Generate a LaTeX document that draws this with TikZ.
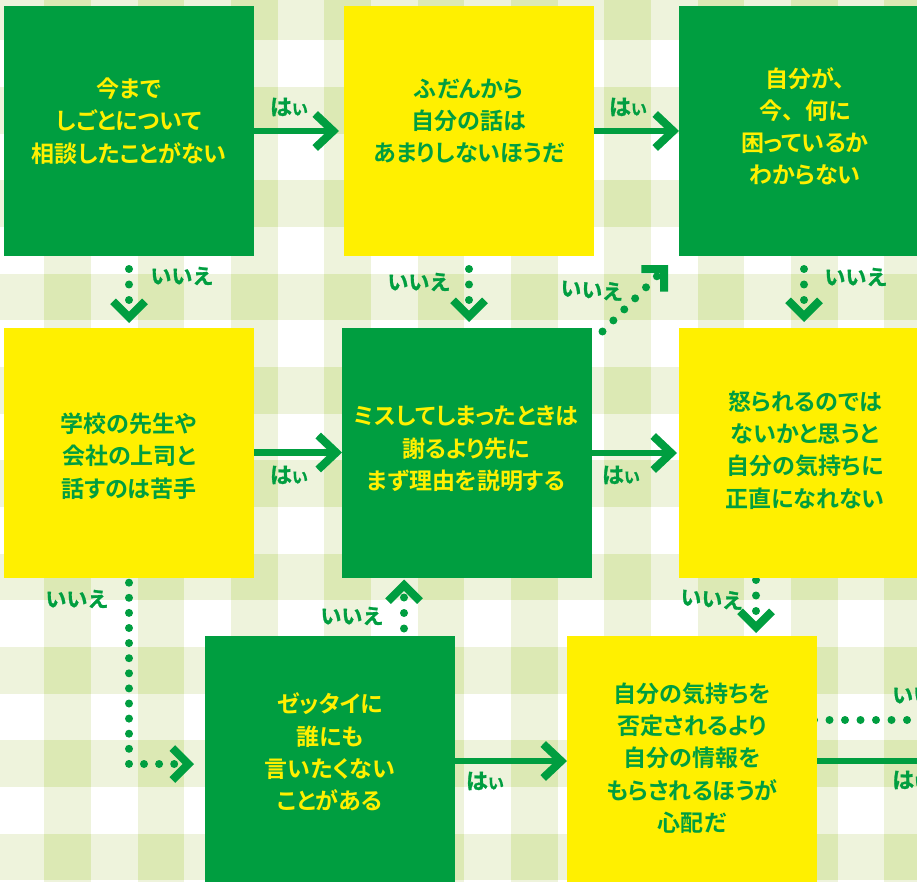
\documentclass[tikz,border=0pt]{standalone}
\usepackage{fontspec}
\usetikzlibrary{arrows.meta,calc}
\newfontfamily\jpfont[RawFeature=+palt]{Noto Sans CJK JP Bold}
\newfontfamily\lbfont[FakeBold=1.2]{Noto Sans CJK JP Bold}
\definecolor{fgreen}{HTML}{009E40}
\definecolor{fyellow}{HTML}{FFF000}
\definecolor{gpale}{HTML}{EEF3DC}
\definecolor{gmed}{HTML}{DCE9B4}
\pgfdeclarelayer{bg}
\pgfdeclarelayer{conn}
\pgfsetlayers{bg,conn,main}
\begin{document}
\begin{tikzpicture}[x=1pt,y=-1pt,
  box/.style={minimum width=250pt, minimum height=250pt, inner sep=0pt, outer sep=0pt, draw=none},
  gbox/.style={box, fill=fgreen},
  ybox/.style={box, fill=fyellow},
  qtext/.style={align=center, font=\jpfont\fontsize{23}{32.3}\selectfont, inner sep=0pt},
  gtext/.style={qtext, text=fyellow},
  ytext/.style={qtext, text=fgreen},
  yesline/.style={draw=fgreen, line width=6.5pt},
  yes/.style={yesline, -{Straight Barb[sharp, length=18pt, width=34pt, line width=8pt]}},
  dots/.style={draw=fgreen, line width=8pt, line cap=round, dash pattern=on 0pt off 15.5pt},
  no/.style={dots, -{Straight Barb[sharp, length=16pt, width=32pt, line width=8pt]}},
  lab/.style={text=fgreen, font=\lbfont\fontsize{21}{21}\selectfont, inner sep=0pt},
  hai/.style={text=fgreen, inner sep=0pt},
]
\useasboundingbox (0,0) rectangle (917,882);
\clip (0,0) rectangle (917,882);
\newcommand{\haitext}{{\lbfont\fontsize{22}{22}\selectfont は\fontsize{16}{16}\selectfont い}}
\begin{pgfonlayer}{bg}
\fill[white] (0,0) rectangle (917,882);
\foreach \k in {-1,...,9} \fill[gpale] ({44.33+93.33*\k},0) rectangle ++(46.67,882);
\foreach \k in {0,...,9} \fill[gpale] (0,{-6.33+93.33*\k}) rectangle ++(917,46.67);
\foreach \i in {-1,...,9} \foreach \j in {0,...,9}
  \fill[gmed] ({44.33+93.33*\i},{-6.33+93.33*\j}) rectangle ++(46.67,46.67);
\end{pgfonlayer}

% boxes
\node[gbox] (b1) at (129,131) {};
\node[ybox] (b2) at (469,131) {};
\node[gbox] (b3) at (804,131) {};
\node[ybox] (b4) at (129,452.5) {};
\node[gbox] (b5) at (467,453) {};
\node[ybox] (b6) at (804,453) {};
\node[gbox] (b7) at (330,761) {};
\node[ybox] (b8) at (692,761) {};

% texts
\node[gtext] (t1) at (129,121) {今まで\\しごとについて\\相談したことがない};
\node[ytext] (t2) at (469,121) {ふだんから\\自分の話は\\あまりしないほうだ};
\node[gtext] (t3) at (805,126.5) {自分が、\\今、\hspace{12pt}何に\\困っているか\\わからない};
\node[ytext] (t4) at (129,456) {学校の先生や\\会社の上司と\\話すのは苦手};
\node[gtext] (t5) at (466,449) {ミスしてしまったときは\\謝るより先に\\まず理由を説明する};
\node[ytext] (t6) at (805,450) {怒られるのでは\\ないかと思うと\\自分の気持ちに\\正直になれない};
\node[gtext] (t7) at (330,752) {ゼッタイに\\誰にも\\言いたくない\\ことがある};
\node[ytext] (t8) at (692,758) {自分の気持ちを\\否定されるより\\自分の情報を\\もらされるほうが\\心配だ};

\coordinate (exitA) at (930,761);
\coordinate (exitB) at (930,720);

\begin{pgfonlayer}{conn}
% yes arrows
\draw[yes, shorten >=5pt] (b1.east) -- (b2.west);
\draw[yes] (b2.east) -- (b3.west);
\draw[yes] (b4.east) -- (b4.east -| b5.west);
\draw[yes, shorten >=2pt] (b5.east) -- (b6.west);
\draw[yes] (b7.east) -- (b8.west);
\draw[yesline] (b8.east) -- (exitA);
% no arrows
\draw[no, shorten <=13pt, shorten >=4.5pt] (b1.south) -- (b4.north);
\draw[no, shorten <=13pt, shorten >=6pt] (b2.south) -- (b2.south |- b5.north);
\draw[no, shorten <=13pt, shorten >=6pt] (b3.south) -- (b6.north);
\draw[no] ($(b5.north east)+(10.5,3.5)$) -- ($(b3.south west)+(-11,9)$);
\draw[no, dash pattern=on 0pt off 15.1pt, shorten <=5.2pt, shorten >=11pt] (b4.south) |- ($(b7.west)+(0,3)$);
\draw[no, shorten <=7.5pt, shorten >=1.5pt] ($(b7.north west)+(199,0)$) -- ($(b5.south west)+(62,0)$);
\draw[no, shorten <=2pt, shorten >=3pt] ($(b6.south west)+(77,0)$) -- ($(b8.north west)+(189,0)$);
\draw[dots, shorten <=-3pt] ($(b8.east)+(0,-41)$) -- (exitB);
\end{pgfonlayer}

% labels
\node[hai] (l1) at (289,107) {\haitext};
\node[hai] (l2) at (628,107) {\haitext};
\node[lab] (l3) at (182,276) {いいえ};
\node[lab] (l4) at (419,282) {いいえ};
\node[lab, rotate=-4] (l5) at (592,290) {いいえ};
\node[lab] (l6) at (856,277) {いいえ};
\node[hai] (l7) at (289,475) {\haitext};
\node[hai] (l8) at (621,475) {\haitext};
\node[lab] (l9) at (77,599) {いいえ};
\node[lab] (l10) at (352,616) {いいえ};
\node[lab, rotate=-4] (l11) at (712,599) {いいえ};
\node[hai] (l12) at (485,781) {\haitext};
\node[lab, anchor=west] (l13) at (892,695) {いいえ};
\node[hai, anchor=west] (l14) at (892,780) {\haitext};
\end{tikzpicture}
\end{document}
